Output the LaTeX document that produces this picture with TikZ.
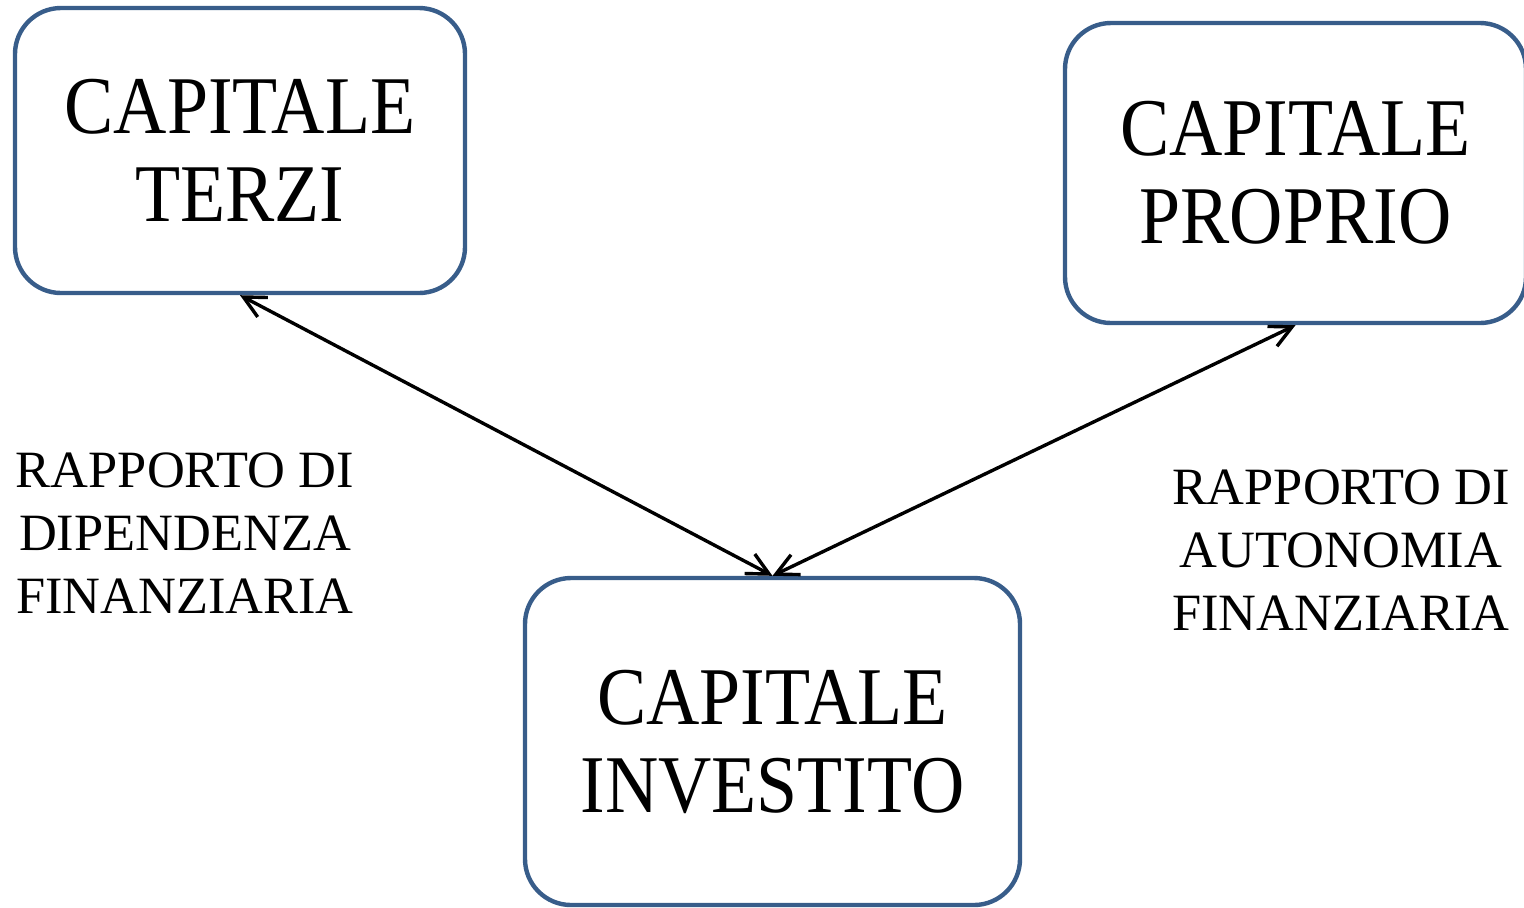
\documentclass[tikz,border=0pt]{standalone}
\usepackage{fontspec}
\setmainfont{Liberation Serif}
\newfontfamily\boxfont{Liberation Serif}[FakeStretch=0.9]
\usetikzlibrary{arrows.meta}
\definecolor{boxblue}{RGB}{56,93,138}

\begin{document}
\begin{tikzpicture}[x=0.5pt, y=-0.5pt,
    capbox/.style={draw=boxblue, line width=2.2pt, rounded corners=23pt, align=center, inner sep=0pt,
      font=\boxfont\fontsize{41}{44}\selectfont},
    ratio/.style={align=center, inner sep=0pt, font=\fontsize{26.2}{31.5}\selectfont},
    link/.style={line width=1.7pt, {Straight Barb[length=11pt,width=11pt]}-{Straight Barb[length=11pt,width=11pt]}}]
    \useasboundingbox (0,0) rectangle (1524,907);
    % boxes
    \node[capbox, minimum width=225pt, minimum height=142.5pt] (terzi) at (240,150.5) {CAPITALE\\TERZI};
    \node[capbox, minimum width=230.5pt, minimum height=150pt] (proprio) at (1295.5,173) {CAPITALE\\PROPRIO};
    \node[capbox, minimum width=247.5pt, minimum height=163.5pt] (investito) at (772.5,741.5) {CAPITALE\\INVESTITO};
    % ratios
    \node[ratio] (dipendenza) at (185,533) {RAPPORTO DI\\DIPENDENZA\\FINANZIARIA};
    \node[ratio] (autonomia) at (1341,550) {RAPPORTO DI\\AUTONOMIA\\FINANZIARIA};
    \draw[link] (terzi.south) -- (investito.north);
    \draw[link] (proprio.south) -- (investito.north);
\end{tikzpicture}
\end{document}
